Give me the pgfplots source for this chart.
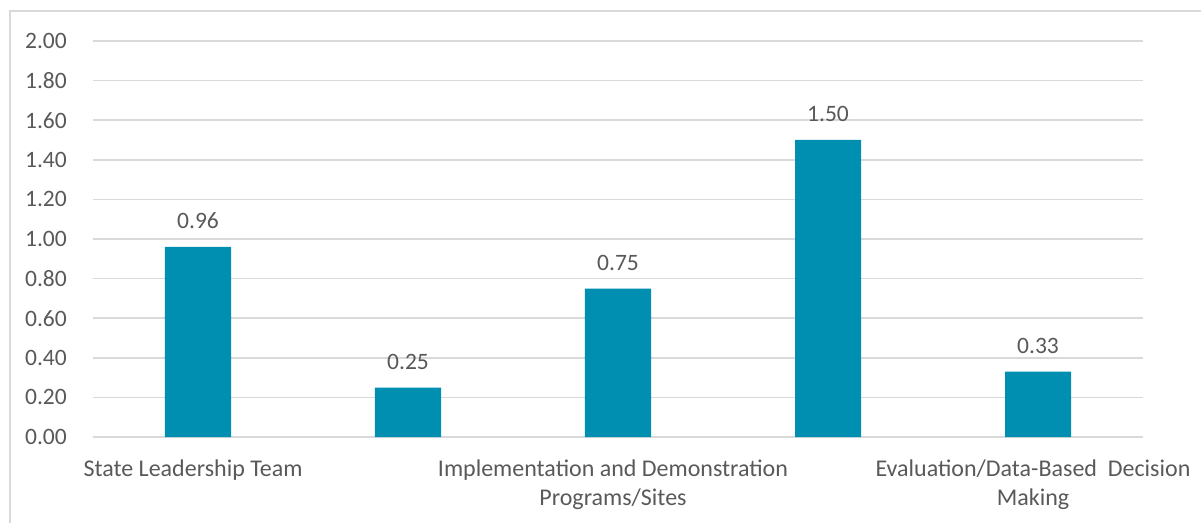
\documentclass[border=0pt]{standalone}
\usepackage{pgfplots}
\pgfplotsset{compat=1.18}
\usepackage{fontspec}
\setmainfont{Carlito}
\definecolor{barblue}{RGB}{0,143,176}
\definecolor{txt}{RGB}{89,89,89}
\definecolor{gridc}{RGB}{217,217,217}
\definecolor{framec}{RGB}{217,217,217}
\begin{document}
\fontsize{23.5bp}{29bp}\selectfont
\begin{tikzpicture}
\path[use as bounding box] (-93bp,-86bp) rectangle (1108bp,437bp);
\draw[framec, line width=1.5bp] (-83bp,-90bp) -- (-83bp,426bp) -- (1115bp,426bp);
\begin{axis}[
  at={(0,0)}, anchor=south west,
  scale only axis,
  width=1050bp, height=396bp,
  xmin=-0.5, xmax=4.5,
  ymin=0, ymax=2,
  ytick={0,0.2,...,2.01},
  xtick={0,1,2,3,4},
  xticklabels={State Leadership Team,,{Implementation and Demonstration\\Programs/Sites},,{Evaluation/Data-Based\ \ Decision\\Making}},
  axis line style={draw=none},
  major tick length=0pt,
  ymajorgrids,
  grid style={gridc, line width=1.5bp},
  yticklabel={\pgfmathprintnumber[fixed,fixed zerofill,precision=2]{\tick}},
  /pgf/number format/assume math mode=true,
  yticklabel style={anchor=east, inner sep=0pt, xshift=-26bp, text=txt, font=\fontsize{23.5bp}{29bp}\selectfont},
  xticklabel style={anchor=north, inner sep=0pt, yshift=-23bp, xshift=-5bp, align=center, text=txt, font=\fontsize{24bp}{29bp}\selectfont},
  ybar, bar width=66bp, bar shift=0pt,
  nodes near coords={\pgfmathprintnumber[fixed,fixed zerofill,precision=2]{\pgfplotspointmeta}},
  nodes near coords style={anchor=base, inner sep=0pt, yshift=18bp, text=txt, font=\fontsize{23.5bp}{29bp}\selectfont},
  clip=false,
]
\addplot[fill=barblue, draw=none] coordinates {(0,0.96) (1,0.25) (2,0.75) (3,1.50) (4,0.33)};
\end{axis}
\end{tikzpicture}
\end{document}
